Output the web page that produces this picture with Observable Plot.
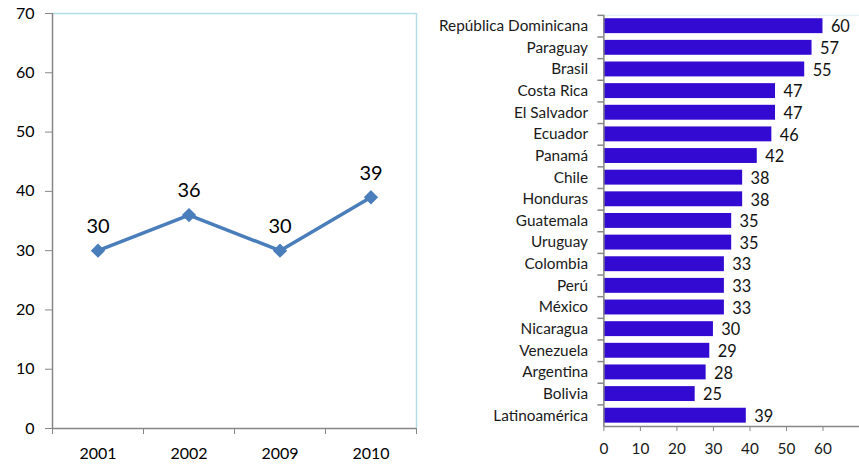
<!DOCTYPE html>
<html>
<head>
<meta charset="utf-8">
<script src="https://cdn.jsdelivr.net/npm/d3@7"></script>
<script src="https://cdn.jsdelivr.net/npm/@observablehq/plot@0.6"></script>
<style>
  html, body { margin: 0; padding: 0; background: #fff; overflow: hidden; }
  #wrap { position: relative; width: 859px; height: 466px; overflow: hidden; }
  #left { position: absolute; left: 0; top: 0; }
  #right { position: absolute; left: 430px; top: 0; }
  svg [aria-label$="tick"] path, svg [aria-label$="tick"] line { stroke: #868686; }
</style>
</head>
<body>
<div id="wrap"><div id="left"></div><div id="right"></div></div>
<script>
// ---- Left panel data ----
const years = ["2001", "2002", "2009", "2010"];
const yearValues = [30, 36, 30, 39];
const leftYTicks = [0, 10, 20, 30, 40, 50, 60, 70];

// ---- Right panel data ----
const countries = ["República Dominicana", "Paraguay", "Brasil", "Costa Rica", "El Salvador", "Ecuador", "Panamá", "Chile", "Honduras", "Guatemala", "Uruguay", "Colombia", "Perú", "México", "Nicaragua", "Venezuela", "Argentina", "Bolivia", "Latinoamérica"];
const countryValues = [60, 57, 55, 47, 47, 46, 42, 38, 38, 35, 35, 33, 33, 33, 30, 29, 28, 25, 39];
const rightXTicks = [0, 10, 20, 30, 40, 50, 60];

const lineColor = "#4a7ebb";
const barColor = "#330ad2";
const axisGray = "#868686";
const borderColor = "#b4dde3";
const font = "Lato, 'Open Sans', sans-serif";

const lineData = years.map((year, i) => ({pos: i + 0.5, year, value: yearValues[i]}));
const barData = countries.map((country, i) => ({country, value: countryValues[i]}));

const left = Plot.plot({
  width: 430, height: 466,
  marginLeft: 52, marginRight: 14, marginTop: 13, marginBottom: 38,
  style: {fontFamily: font, fontSize: "16px", color: "#000", background: "transparent"},
  x: {domain: [0, 4], ticks: [0, 1, 2, 3, 4], tickFormat: () => "", tickSize: 6, label: null},
  y: {domain: [0, 70], ticks: leftYTicks, tickSize: 7, tickPadding: 11, label: null},
  marks: [
    Plot.ruleY([70], {stroke: borderColor, strokeWidth: 1.5}),
    Plot.ruleX([4], {stroke: borderColor, strokeWidth: 1.5}),
    Plot.ruleX([0], {stroke: axisGray, strokeWidth: 1.5}),
    Plot.ruleY([0], {stroke: axisGray, strokeWidth: 1.5}),
    Plot.line(lineData, {x: "pos", y: "value", stroke: lineColor, strokeWidth: 3.5}),
    Plot.dot(lineData, {x: "pos", y: "value", symbol: "diamond2", fill: lineColor, stroke: lineColor, r: 5.5}),
    Plot.text(lineData, {x: "pos", y: "value", text: d => String(d.value), dy: -24, fontSize: 20, fill: "#000"}),
    Plot.text(lineData, {x: "pos", text: "year", frameAnchor: "bottom", dy: 30, fontSize: 16, fill: "#000"})
  ]
});
document.getElementById("left").append(left);

const plotH = 466 - 15 - 36;
const step = plotH / countries.length;

const right = Plot.plot({
  width: 433, height: 466,
  marginLeft: 175, marginRight: 0, marginTop: 15, marginBottom: 36,
  style: {fontFamily: font, fontSize: "15.5px", color: "#1a1a1a", background: "transparent"},
  x: {domain: [0, 70], ticks: rightXTicks, tickSize: 5, tickPadding: 12, label: null},
  y: {domain: countries, padding: 0, round: false, tickSize: 0, tickPadding: 16, label: null},
  marks: [
    Plot.frame({stroke: "#dceff2"}),
    Plot.barX(barData, {x: "value", y: "country", fill: barColor, insetTop: 3.4, insetBottom: 3.4}),
    Plot.ruleX([0], {stroke: axisGray, strokeWidth: 1.5}),
    Plot.ruleY([countries[countries.length - 1]], {dy: step / 2, stroke: axisGray, strokeWidth: 1.5}),
    Plot.ruleY(countries, {y: d => d, x1: 0, x2: 0, insetLeft: -6, dy: -step / 2, stroke: axisGray, strokeWidth: 1.5}),
    Plot.text(barData, {x: "value", y: "country", text: d => String(d.value), textAnchor: "start", dx: 8, dy: 1, fontSize: 16.5, fill: "#111"})
  ]
});
document.getElementById("right").append(right);
</script>
</body>
</html>
